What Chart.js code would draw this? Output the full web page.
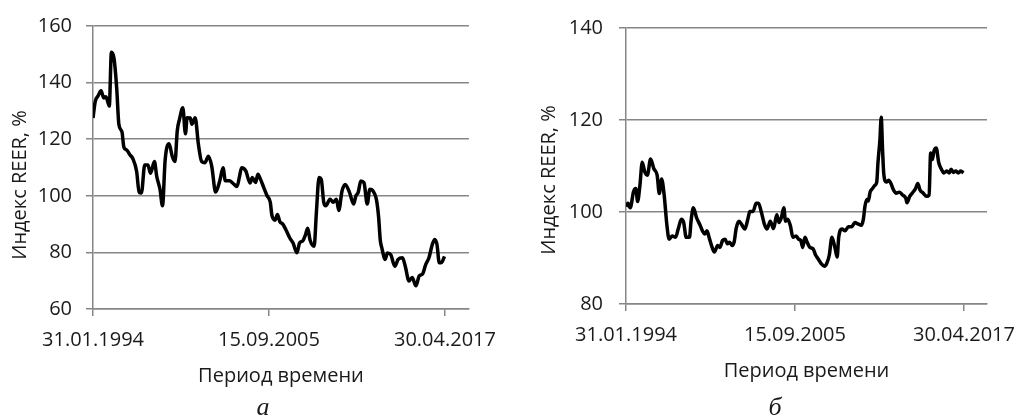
<!DOCTYPE html>
<html lang="ru">
    <head>
        <meta charset="UTF-8" />
        <title>Индекс REER</title>
        <script src="https://cdn.jsdelivr.net/npm/chart.js"></script>
        <style>
            body { margin: 0; background: #fff; }
            .panel { position: absolute; top: 0; }
        </style>
    </head>
    <body>
        <div class="panel" style="left:0"><canvas id="chartA" width="510" height="419"></canvas></div>
        <div class="panel" style="left:510px"><canvas id="chartB" width="519" height="419"></canvas></div>

        <script>
            // x = months since January 1994
            const tickLabels = ["31.01.1994", "15.09.2005", "30.04.2017"];
            const tickMonths = [0, 139.5, 279];

            // panel "а"
            const monthsA = [0, 1.8, 3.9, 6.4, 8.5, 10.3, 12.9, 14.6, 16.7, 18.8, 20.5, 23, 24.4, 26.9, 29.4, 31.5, 34.6, 36.6, 38.4, 41, 43.5, 45.6, 48.7, 50.5, 53.1, 55.1, 57.2, 60.3, 62.9, 65, 66.8, 68.6, 71.2, 73.3, 74.6, 77.1, 78.4, 81, 83.5, 86.1, 88.7, 91.5, 94.1, 97.2, 100.5, 103.1, 104.9, 108.2, 110.8, 114.2, 116, 117.8, 121.1, 124.5, 126.3, 128.9, 130.7, 132.7, 135.3, 137.9, 140.5, 141.8, 144.4, 146.2, 148.2, 150.3, 152.9, 156, 158.6, 161.7, 163.7, 166.3, 168.4, 170.2, 172, 175.3, 177.1, 179.2, 180.9, 183, 184.5, 187.9, 190.4, 193, 194.8, 197.4, 200, 203.3, 206.6, 208.4, 210.2, 212.3, 214.8, 217.4, 219.4, 222, 224.6, 226.4, 227.7, 229, 231.6, 233.4, 236, 239.3, 241.9, 245.3, 247.8, 250.4, 253, 256, 258.6, 261.2, 263.7, 266.3, 268.9, 270.9, 272.7, 274.5, 276.5, 278.6];
            const reerA = [127.5, 133.4, 135.2, 137.1, 134.6, 135, 131.7, 150.7, 148.4, 138, 125.3, 122.5, 117.3, 116.1, 114.4, 113.2, 108.6, 101.1, 101, 110.9, 110.9, 108, 112.1, 106.9, 102.3, 96.5, 112.7, 118.4, 113.8, 112.1, 123, 127.1, 131.1, 121.9, 127.6, 127.5, 125.3, 127.6, 118.4, 112.1, 111.7, 114, 110.5, 101.3, 105.3, 109.9, 105.3, 105.3, 104.5, 103.3, 106.5, 109.9, 108.8, 104.5, 106.5, 104.7, 107.6, 105.9, 103, 100.1, 97.8, 93.2, 91.4, 93.4, 90.8, 90.1, 88, 85.1, 83.3, 79.9, 83.3, 84.1, 86.2, 88.5, 84.5, 82.2, 94.3, 106.5, 105.9, 97.5, 96.5, 98.8, 97.7, 98.8, 94.8, 101.7, 104, 101.2, 97.1, 100, 101.2, 105.2, 104.6, 97.1, 102.3, 101.7, 98.8, 92.5, 84.4, 81.5, 77.5, 79.8, 79.2, 75.1, 77.5, 78.1, 74.6, 69.9, 71.1, 68.2, 71.7, 72.3, 75.7, 78.1, 82.7, 84.6, 82.7, 76.3, 76.5, 78.6];

            // panel "б"
            const monthsB = [0, 1.7, 3.5, 6.2, 8.1, 9.6, 11.5, 13.4, 15.5, 17.6, 20.3, 23, 25.7, 27.5, 29.4, 31.5, 33.7, 35.6, 38.2, 40.9, 43.1, 45.7, 47.6, 49.7, 52.4, 53.7, 55.6, 58.3, 60.9, 63.1, 65, 66.8, 69, 71.1, 73, 75.7, 77.5, 79.7, 81.8, 83.7, 85.5, 87.7, 89.3, 91, 93.3, 95.4, 98.1, 100.8, 102.2, 104.8, 107.5, 109.4, 111.6, 114.3, 116.4, 119.1, 121.8, 124.5, 126.3, 128.2, 130.3, 131.7, 133.5, 135.7, 137.8, 140.5, 142.4, 144.3, 145.9, 147.7, 149.6, 151.8, 154.4, 156.6, 158.4, 161.1, 163.8, 165.7, 167.8, 170, 172.7, 174.3, 175.6, 178.3, 180.9, 183.6, 186.3, 189, 191.6, 194.3, 196, 197.3, 198.9, 200, 201.6, 203.5, 205.4, 207, 208, 209.6, 210.7, 211.8, 212.8, 215, 216.8, 218.7, 220.8, 223, 225.6, 228.3, 231, 232, 234.2, 236.3, 239, 240.9, 242.7, 245.4, 248.1, 250.2, 251.5, 252.9, 254.2, 256.1, 258.2, 260.4, 262.3, 264.9, 266.8, 268.4, 270.3, 272.2, 274.3, 276.4, 278.6];
            const reerB = [101.2, 101.9, 100.9, 104.4, 105.1, 102.3, 105.8, 110.8, 108.7, 108, 111.5, 109.4, 108, 104, 107.2, 103.7, 97.3, 94.1, 94.8, 94.5, 96.3, 98.4, 97.7, 94.5, 94.5, 98, 100.9, 98.7, 97.3, 95.9, 95.2, 95.9, 94.1, 92.3, 91.3, 92.7, 92.3, 93.8, 94.1, 93.1, 93.4, 92.7, 93.5, 96.5, 98, 97.3, 96.3, 98.7, 100.1, 100.1, 101.9, 101.9, 100.1, 97.3, 96.3, 98, 96.4, 99.4, 97.7, 98.7, 100.9, 98, 98.4, 97, 94.5, 94.8, 94.1, 93.8, 92.3, 94.5, 93.4, 92.3, 92, 90.6, 89.9, 88.8, 88.2, 88.8, 90.6, 94.5, 92, 90.2, 94.5, 96.3, 95.9, 96.8, 96.8, 97.7, 97.4, 97.1, 98.5, 101.3, 102.7, 102.4, 104.4, 105.1, 105.8, 106.5, 110.7, 115.6, 120.6, 113.5, 108.3, 106.5, 106.9, 106.2, 104.8, 104.1, 104.3, 103.7, 103, 102, 103.4, 104.1, 105.1, 106.2, 104.8, 104.1, 103.4, 103.7, 112.8, 111.4, 113.2, 113.9, 110.7, 109.3, 108.5, 108.9, 108.5, 109.3, 108.6, 108.9, 108.5, 108.9, 108.5];

            const axisGray = "#868686";
            const textColor = "#1a1a1a";

            Chart.defaults.font.family = '"Open Sans", sans-serif';
            Chart.defaults.font.size = 20;
            Chart.defaults.color = textColor;

            // y-axis title and panel letter, drawn at fixed spots
            const captions = {
                id: "captions",
                afterDraw(chart, args, opts) {
                    const ctx = chart.ctx;
                    ctx.save();
                    ctx.fillStyle = textColor;
                    ctx.textAlign = "center";
                    ctx.textBaseline = "middle";
                    ctx.font = '20px "Open Sans"';
                    ctx.translate(opts.titleX, opts.titleY);
                    ctx.rotate(-Math.PI / 2);
                    ctx.fillText("Индекс REER, %", 0, 0);
                    ctx.restore();

                    ctx.save();
                    ctx.fillStyle = textColor;
                    ctx.textAlign = "center";
                    ctx.textBaseline = "middle";
                    ctx.font = 'italic 26px "Liberation Serif"';
                    ctx.fillText(opts.letter, opts.letterX, 408);
                    ctx.restore();
                },
            };

            function makeChart(id, months, values, yMin, yMax, axisWidth, labelPad, padBottom, capOpts) {
                const points = months.map((m, i) => ({ x: m, y: values[i] }));
                return new Chart(document.getElementById(id), {
                    type: "line",
                    data: {
                        datasets: [
                            {
                                data: points,
                                borderColor: "#000",
                                borderWidth: 3.5,
                                pointRadius: 0,
                                cubicInterpolationMode: "monotone",
                                fill: false,
                            },
                        ],
                    },
                    options: {
                        responsive: false,
                        animation: false,
                        layout: {
                            padding: { top: 22, right: 32, bottom: padBottom, left: 0 },
                        },
                        plugins: {
                            legend: { display: false },
                            tooltip: { enabled: false },
                            captions: capOpts,
                        },
                        scales: {
                            x: {
                                type: "linear",
                                min: 0,
                                max: 298,
                                afterBuildTicks: (scale) => {
                                    scale.ticks = tickMonths.map((v) => ({ value: v }));
                                },
                                ticks: {
                                    autoSkip: false,
                                    maxRotation: 0,
                                    padding: 12,
                                    callback: (v, i) => tickLabels[i],
                                },
                                grid: {
                                    drawOnChartArea: false,
                                    color: axisGray,
                                    lineWidth: 1.5,
                                    tickLength: 7,
                                },
                                border: { color: axisGray, width: 1.5 },
                                title: {
                                    display: true,
                                    text: "Период времени",
                                    padding: { top: 0, bottom: 0 },
                                },
                            },
                            y: {
                                min: yMin,
                                max: yMax,
                                afterFit: (scale) => {
                                    scale.width = axisWidth;
                                },
                                ticks: { stepSize: 20, padding: labelPad },
                                grid: {
                                    color: axisGray,
                                    lineWidth: 1.5,
                                    tickLength: 7,
                                },
                                border: { color: axisGray, width: 1.5 },
                            },
                        },
                    },
                    plugins: [captions],
                });
            }

            makeChart("chartA", monthsA, reerA, 60, 160, 93, 14, 31,
                { titleX: 20, titleY: 185, letter: "а", letterX: 263 });
            makeChart("chartB", monthsB, reerB, 80, 140, 116, 16, 36,
                { titleX: 39, titleY: 180, letter: "б", letterX: 265 });
        </script>
    </body>
</html>
